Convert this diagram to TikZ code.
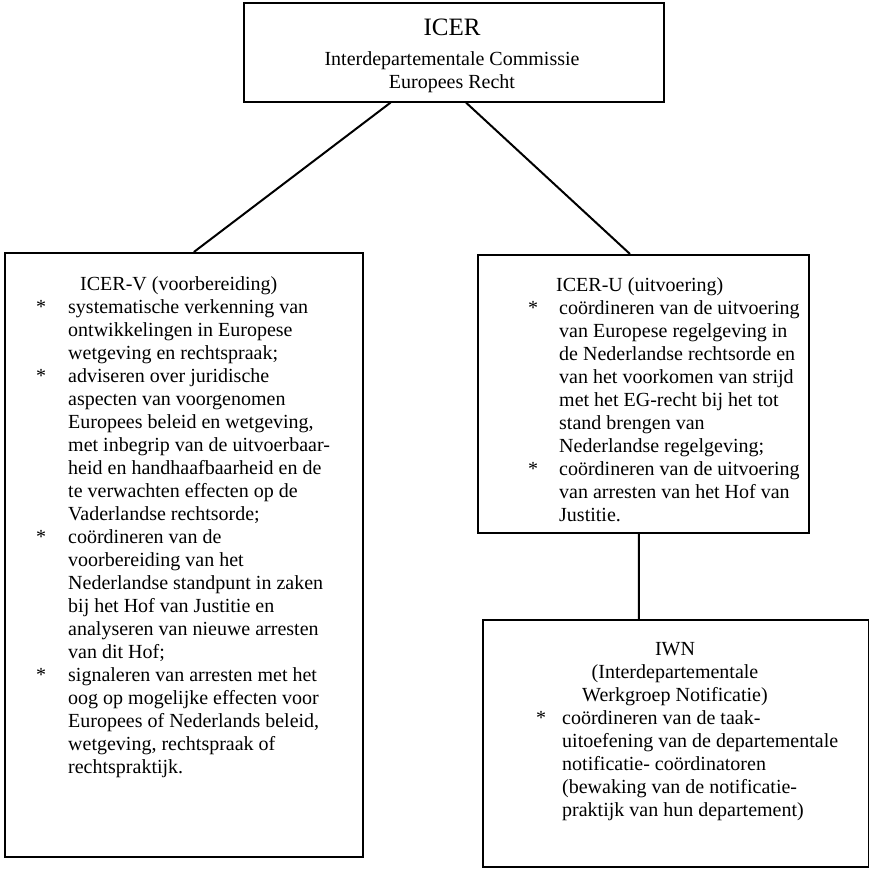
\documentclass[tikz,border=0pt]{standalone}
\usepackage{fontspec}
\setmainfont{Liberation Serif}
\usetikzlibrary{calc}
\newcommand{\bulstar}{\relax *}
\begin{document}
\begin{tikzpicture}[x=1pt,y=-1pt,
  box/.style={draw, line width=1.6pt, inner sep=0pt, anchor=north west},
  link/.style={line width=2pt},
  txt/.style={inner sep=0pt, font=\fontsize{20}{23}\selectfont}]
\useasboundingbox[fill=white] (0,0) rectangle (869,868);
% boxes
\node[box, minimum width=420pt, minimum height=99pt] (icer) at (243,2) {};
\node[box, minimum width=358pt, minimum height=604pt] (icerv) at (4,252) {};
\node[box, minimum width=331pt, minimum height=278pt] (iceru) at (477,254) {};
\node[box, minimum width=386pt, minimum height=247pt] (iwn) at (482,619) {};
% connectors
\draw[link] ($(icer.south west)!0.35!(icer.south east)$) -- ($(icerv.north west)!0.528!(icerv.north east)$);
\draw[link] ($(icer.south west)!0.529!(icer.south east)$) -- ($(iceru.north west)!0.46!(iceru.north east)$);
\draw[link] ($(iceru.south west)!0.487!(iceru.south east)$) -- ($(iwn.north west)!0.405!(iwn.north east)$);
% top text
\node[txt, font=\fontsize{25}{28}\selectfont, anchor=base] (t1) at (452,35) {ICER};
\node[txt, anchor=base] (t2) at (452,65) {Interdepartementale Commissie};
\node[txt, anchor=base] (t3) at (452,88) {Europees Recht};
% left text
\node[txt, anchor=base west] (vtext) at (36,290) {\begin{tabular}[t]{@{}p{32pt}@{}l@{}}
\multicolumn{2}{@{}l@{}}{\hspace{44pt}ICER-V (voorbereiding)}\\
\bulstar & systematische verkenning van\\
& ontwikkelingen in Europese\\
& wetgeving en rechtspraak;\\
\bulstar & adviseren over juridische\\
& aspecten van voorgenomen\\
& Europees beleid en wetgeving,\\
& met inbegrip van de uitvoerbaar-\\
& heid en handhaafbaarheid en de\\
& te verwachten effecten op de\\
& Vaderlandse rechtsorde;\\
\bulstar & coördineren van de\\
& voorbereiding van het\\
& Nederlandse standpunt in zaken\\
& bij het Hof van Justitie en\\
& analyseren van nieuwe arresten\\
& van dit Hof;\\
\bulstar & signaleren van arresten met het\\
& oog op mogelijke effecten voor\\
& Europees of Nederlands beleid,\\
& wetgeving, rechtspraak of\\
& rechtspraktijk.
\end{tabular}};
% right upper text
\node[txt, anchor=base west] (utext) at (528,291) {\begin{tabular}[t]{@{}p{31pt}@{}l@{}}
\multicolumn{2}{@{}l@{}}{\hspace{28pt}ICER-U (uitvoering)}\\
\bulstar & coördineren van de uitvoering\\
& van Europese regelgeving in\\
& de Nederlandse rechtsorde en\\
& van het voorkomen van strijd\\
& met het EG-recht bij het tot\\
& stand brengen van\\
& Nederlandse regelgeving;\\
\bulstar & coördineren van de uitvoering\\
& van arresten van het Hof van\\
& Justitie.
\end{tabular}};
% lower right text
\node[txt, anchor=base] (wtitle) at (675,655) {\begin{tabular}[t]{@{}c@{}}IWN\\(Interdepartementale\\Werkgroep Notificatie)\end{tabular}};
\node[txt, anchor=base west] (wtext) at (536,724) {\begin{tabular}[t]{@{}p{26pt}@{}l@{}}
\bulstar & coördineren van de taak-\\
& uitoefening van de departementale\\
& notificatie- coördinatoren\\
& (bewaking van de notificatie-\\
& praktijk van hun departement)
\end{tabular}};
\end{tikzpicture}
\end{document}
